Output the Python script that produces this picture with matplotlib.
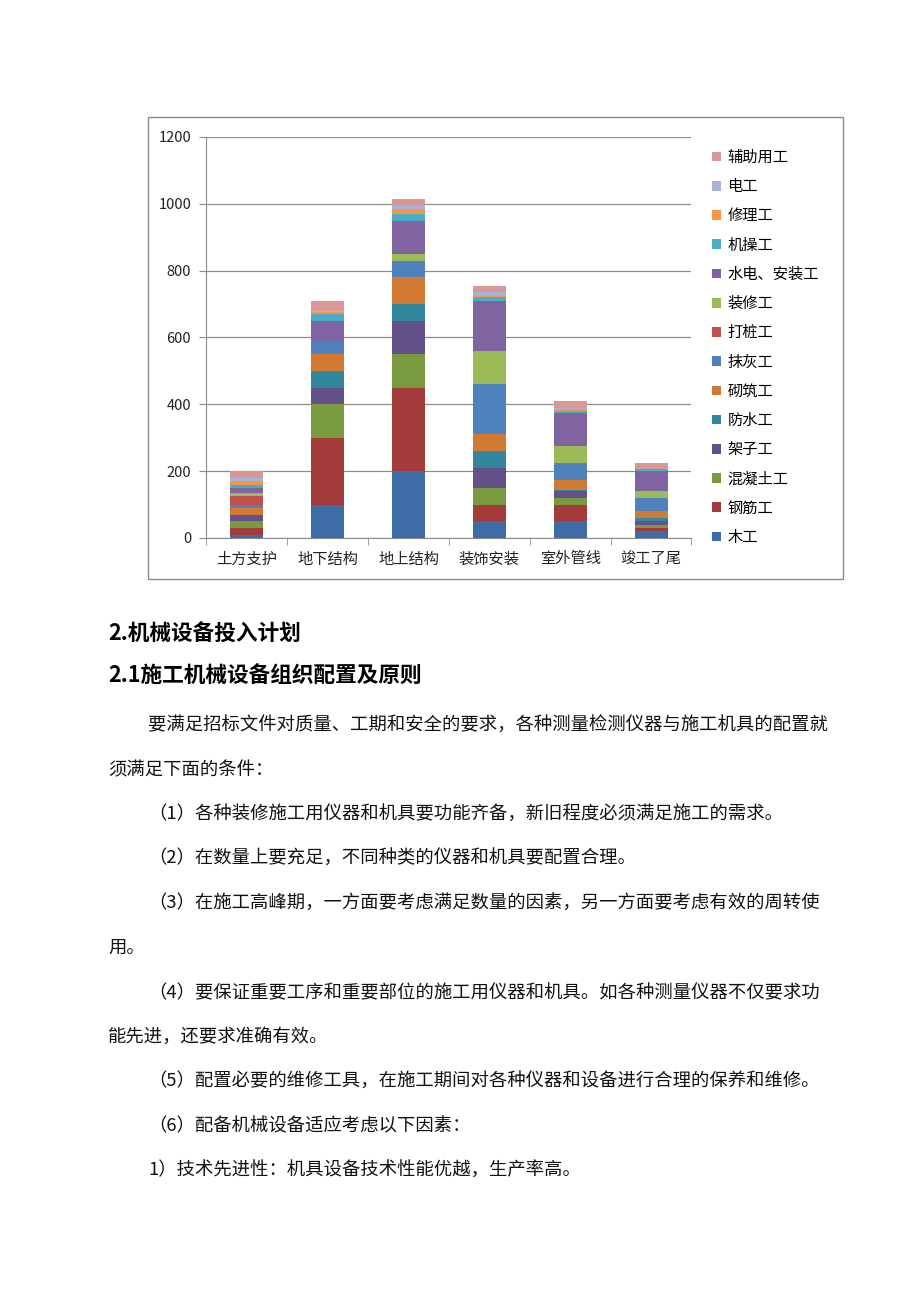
import matplotlib
matplotlib.use("Agg")
import matplotlib.pyplot as plt
from matplotlib.patches import Rectangle, Patch
import numpy as np

plt.rcParams['font.family'] = ['Noto Sans CJK SC', 'DejaVu Sans']

categories = ["土方支护", "地下结构", "地上结构", "装饰安装", "室外管线", "竣工了尾"]
series_names = ["木工", "钢筋工", "混凝土工", "架子工", "防水工", "砌筑工", "抹灰工",
                "打桩工", "装修工", "水电、安装工", "机操工", "修理工", "电工", "辅助用工"]
mugong     = [10, 100, 200, 50, 50, 20]
gangjin    = [20, 200, 250, 50, 50, 10]
hunningtu  = [20, 100, 100, 50, 20, 10]
jiazi      = [20, 50, 100, 60, 20, 10]
fangshui   = [0, 50, 50, 50, 5, 10]
qizhu      = [20, 50, 80, 50, 30, 20]
mohui      = [10, 40, 50, 150, 50, 40]
dazhuang   = [25, 0, 0, 0, 0, 0]
zhuangxiu  = [10, 0, 20, 100, 50, 20]
shuidian   = [15, 60, 100, 150, 100, 60]
jicao      = [10, 20, 20, 10, 5, 5]
xiuli      = [10, 5, 15, 5, 5, 0]
diangong   = [10, 5, 10, 10, 5, 0]
fuzhu      = [20, 30, 20, 20, 20, 20]
values = [mugong, gangjin, hunningtu, jiazi, fangshui, qizhu, mohui,
          dazhuang, zhuangxiu, shuidian, jicao, xiuli, diangong, fuzhu]
colors = ["#3E6CA6", "#A33B3A", "#7A9A3F", "#64508A", "#31889E", "#D27A34", "#4F81BD",
          "#C0504D", "#9BBB59", "#8064A2", "#4BACC6", "#F79646", "#A4B4DC", "#D99795"]
yticks = [0, 200, 400, 600, 800, 1000, 1200]

W, H = 920, 1302
fig = plt.figure(figsize=(W / 100, H / 100), dpi=100)

def fx(px):
    return px / W

def fy(py):
    return 1 - py / H

# chart border
fig.patches.append(Rectangle((fx(148), fy(579)), fx(843) - fx(148), fy(117) - fy(579),
                             transform=fig.transFigure, fill=False, edgecolor="#8a8a8a",
                             linewidth=1.0))

ax = fig.add_axes([fx(206.5), fy(538), fx(691.5) - fx(206.5), fy(137) - fy(538)])
x = np.arange(len(categories))
bottom = np.zeros(len(categories))
for name, vals, c in zip(series_names, values, colors):
    ax.bar(x, vals, width=0.41, bottom=bottom, color=c, label=name, zorder=3)
    bottom += np.array(vals)

ax.set_xlim(-0.5, len(categories) - 0.5)
ax.set_ylim(0, 1200)
ax.set_yticks(yticks)
ax.set_yticklabels([str(v) for v in yticks], fontsize=10.5, color="#222222")
ax.yaxis.grid(True, color="#8c8c8c", linewidth=0.9, zorder=0)
ax.set_xticks(x)
ax.set_xticklabels(categories, fontsize=11, color="#222222")
ax.set_xticks(np.arange(-0.5, len(categories)), minor=True)
ax.tick_params(axis='x', which='major', length=0, pad=9)
ax.tick_params(axis='x', which='minor', length=5, color="#8c8c8c")
ax.tick_params(axis='y', length=5, color="#8c8c8c", pad=6)
for s in ["top", "right"]:
    ax.spines[s].set_visible(False)
for s in ["left", "bottom"]:
    ax.spines[s].set_color("#8c8c8c")

handles = [Patch(facecolor=c, label=n) for n, c in zip(series_names, colors)][::-1]
leg = fig.legend(handles=handles, loc="upper left",
                 bbox_to_anchor=(fx(712), fy(149)), frameon=False, fontsize=11,
                 handlelength=0.6, handleheight=0.6, handletextpad=0.4,
                 labelspacing=0.8, borderaxespad=0, borderpad=0)

# text body
heading_kw = dict(fontsize=15.6, fontweight='bold', color="#000000", va='center', ha='left')
body_kw = dict(fontsize=13.2, color="#111111", va='center', ha='left')
fig.text(fx(108), fy(634), "2.机械设备投入计划", **heading_kw)
fig.text(fx(108), fy(676), "2.1施工机械设备组织配置及原则", **heading_kw)
lines = [
    (148, 726, "要满足招标文件对质量、工期和安全的要求，各种测量检测仪器与施工机具的配置就"),
    (108, 770, "须满足下面的条件："),
    (148, 815, "（1）各种装修施工用仪器和机具要功能齐备，新旧程度必须满足施工的需求。"),
    (148, 859, "（2）在数量上要充足，不同种类的仪器和机具要配置合理。"),
    (148, 904, "（3）在施工高峰期，一方面要考虑满足数量的因素，另一方面要考虑有效的周转使"),
    (108, 948, "用。"),
    (148, 993, "（4）要保证重要工序和重要部位的施工用仪器和机具。如各种测量仪器不仅要求功"),
    (108, 1037, "能先进，还要求准确有效。"),
    (148, 1082, "（5）配置必要的维修工具，在施工期间对各种仪器和设备进行合理的保养和维修。"),
    (148, 1126, "（6）配备机械设备适应考虑以下因素："),
    (148, 1171, "1）技术先进性：机具设备技术性能优越，生产率高。"),
]
for px, py, t in lines:
    fig.text(fx(px), fy(py), t, **body_kw)

fig.savefig("out.png", dpi=100)
